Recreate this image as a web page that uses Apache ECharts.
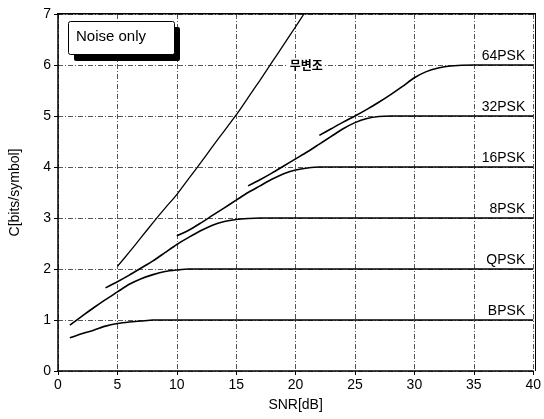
<!DOCTYPE html>
<html><head><meta charset="utf-8">
<script src="https://cdn.jsdelivr.net/npm/echarts@6/dist/echarts.min.js"></script>
<style>html,body{margin:0;padding:0;background:#fff}#c{width:544px;height:419px}</style>
</head><body><div id="c"></div>
<script>
// Data
const xTicks = [0,5,10,15,20,25,30,35,40];
const yTicks = [0,1,2,3,4,5,6,7];

const shannonX = [5, 6, 7, 8, 9, 10, 11, 12, 13, 14, 15, 16, 17, 18, 19, 20, 20.7];
const shannonY = [2.05, 2.33, 2.62, 2.91, 3.19, 3.46, 3.77, 4.08, 4.4, 4.71, 5.02, 5.36, 5.7, 6.05, 6.4, 6.75, 7.0];

const bpskX = [1, 2, 3, 4, 5, 6, 7, 8, 40];
const bpskY = [0.65, 0.73, 0.8, 0.88, 0.93, 0.96, 0.98, 1.0, 1.0];

const qpskX = [1, 2, 3, 4, 5, 6, 7, 8, 9, 10, 11, 40];
const qpskY = [0.9, 1.07, 1.24, 1.4, 1.55, 1.7, 1.81, 1.89, 1.95, 1.98, 2.0, 2.0];

const psk8X = [4, 5, 6, 7, 8, 9, 10, 11, 12, 13, 14, 15, 16, 17, 40];
const psk8Y = [1.63, 1.75, 1.88, 2.02, 2.16, 2.32, 2.48, 2.62, 2.75, 2.86, 2.93, 2.97, 2.99, 3.0, 3.0];

const psk16X = [10, 11, 12, 13, 14, 15, 16, 17, 18, 19, 20, 21, 22, 40];
const psk16Y = [2.65, 2.76, 2.9, 3.05, 3.2, 3.35, 3.5, 3.63, 3.76, 3.87, 3.94, 3.98, 4.0, 4.0];

const psk32X = [16, 17, 18, 19, 20, 21, 22, 23, 24, 25, 26, 27, 28, 40];
const psk32Y = [3.63, 3.75, 3.88, 4.02, 4.16, 4.3, 4.45, 4.6, 4.75, 4.87, 4.95, 4.99, 5.0, 5.0];

const psk64X = [22, 23, 24, 25, 26, 27, 28, 29, 30, 31, 32, 33, 35, 40];
const psk64Y = [4.62, 4.75, 4.88, 5.0, 5.13, 5.27, 5.42, 5.58, 5.75, 5.87, 5.94, 5.98, 6.0, 6.0];

const seriesNames = ['BPSK', 'QPSK', '8PSK', '16PSK', '32PSK', '64PSK'];
const seriesXs = [bpskX, qpskX, psk8X, psk16X, psk32X, psk64X];
const seriesYs = [bpskY, qpskY, psk8Y, psk16Y, psk32Y, psk64Y];

const shannonLabel = '무변조';
const shannonLabelPos = [20.9, 6];
const boxText = 'Noise only';

function pairs(xs, ys){ return xs.map((x,i)=>[x, ys[i]]); }

const chart = echarts.init(document.getElementById('c'));
const FONT = 'Liberation Sans, Arial, sans-serif';
const gridLine = {show:true, lineStyle:{color:'#555', width:1, type:[5,2,1,2]}};

const series = seriesNames.map((n, k) => ({
  name:n, type:'line', data:pairs(seriesXs[k], seriesYs[k]), smooth:0.25, symbol:'none',
  lineStyle:{color:'#000', width:1.6}, silent:true, z:3,
  endLabel:{show:true, formatter:n, align:'right', verticalAlign:'bottom', distance:0, offset:[-8,-2], color:'#000', fontSize:14, fontFamily:FONT}
}));
series.push({
  name:'shannon', type:'line', data:pairs(shannonX, shannonY), smooth:0.25, symbol:'none',
  lineStyle:{color:'#000', width:1.3}, silent:true, z:3,
  markPoint:{symbol:'rect', symbolSize:0, silent:true,
    data:[{coord:shannonLabelPos, label:{show:true, formatter:shannonLabel, position:'inside', color:'#000', fontWeight:'bold', fontSize:12, fontFamily:'Noto Sans CJK KR', backgroundColor:'#fff', padding:[1,2]}}]}
});

chart.setOption({
  animation:false,
  backgroundColor:'#fff',
  grid:{left:57, right:9, top:14, bottom:48, show:false},
  xAxis:{type:'value', min:0, max:40, interval:5, name:'SNR[dB]', nameLocation:'middle', nameGap:27,
    nameTextStyle:{fontSize:14, color:'#000', fontFamily:FONT},
    axisLine:{show:true, onZero:false, lineStyle:{color:'#000', width:1.5}},
    axisTick:{show:true, length:4, lineStyle:{color:'#000'}},
    axisLabel:{color:'#000', fontSize:14, fontFamily:FONT, margin:7, formatter:v=>xTicks.includes(v)?String(v):''},
    splitLine:gridLine},
  yAxis:{type:'value', min:0, max:7, interval:1, name:'C[bits/symbol]', nameLocation:'middle', nameGap:36,
    nameTextStyle:{fontSize:14, color:'#000', fontFamily:FONT},
    axisLine:{show:true, onZero:false, lineStyle:{color:'#000', width:1.5}},
    axisTick:{show:true, length:4, lineStyle:{color:'#000'}},
    axisLabel:{color:'#000', fontSize:14, fontFamily:FONT, margin:7, formatter:v=>yTicks.includes(v)?String(v):''},
    splitLine:gridLine},
  graphic:[
    {type:'rect', left:535, top:14, shape:{width:1, height:357}, style:{fill:'#000'}, z:5},
    {type:'rect', left:57, top:13, shape:{width:479, height:1.5}, style:{fill:'#000'}, z:5},
    {type:'rect', left:74, top:27, shape:{width:106, height:34, r:2}, style:{fill:'#000'}, z:10},
    {type:'rect', left:68, top:21, shape:{width:106, height:33, r:2}, style:{fill:'#fff', stroke:'#000', lineWidth:1}, z:11},
    {type:'text', left:76, top:29, style:{text:boxText, fontSize:15, fontFamily:FONT, fill:'#000'}, z:12}
  ],
  series:series
});
</script></body></html>
